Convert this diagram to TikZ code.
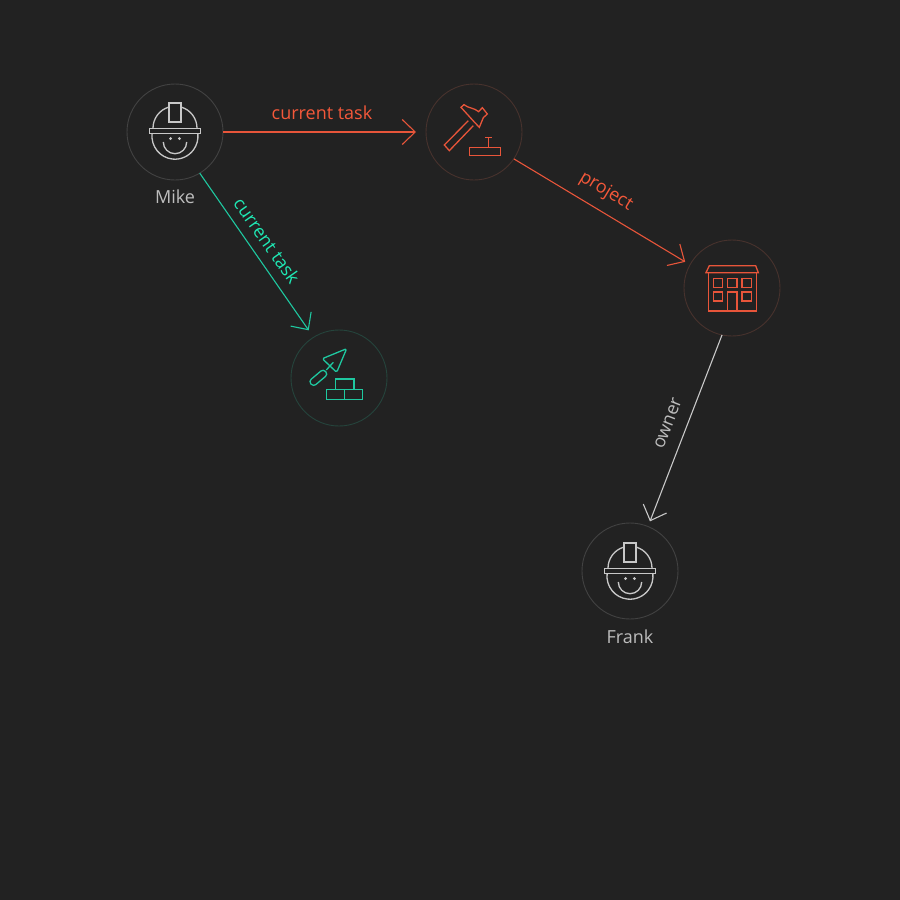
\documentclass[tikz,border=0pt]{standalone}
\usepackage{fontspec}
\setmainfont{Open Sans}
\usetikzlibrary{arrows.meta}
\definecolor{bgc}{HTML}{222222}
\definecolor{orc}{HTML}{E8553A}
\definecolor{orl}{HTML}{F4583A}
\definecolor{grc}{HTML}{1FC8A0}
\definecolor{grl}{HTML}{1FE8B4}
\definecolor{gyc}{HTML}{C8C8C8}
\definecolor{gyl}{HTML}{BDBDBD}
\definecolor{ringg}{HTML}{424242}
\definecolor{ringo}{HTML}{47322D}
\definecolor{ringt}{HTML}{25443C}
\tikzset{
  x=1pt,y=1pt,
  hub/.style={circle,draw=#1,line width=0.9pt,minimum size=96pt,inner sep=0pt,outer sep=0pt},
  link/.style={draw=#1,line width=1.1pt,-{Straight Barb[length=13pt,width=25pt,line width=1.1pt]}},
  lab/.style={font=\fontsize{18}{21}\selectfont,inner sep=0pt},
  ico/.style={draw=#1,line width=1.3pt,line join=miter},
  zoomed/.style={x=0.3333pt,y=-0.3333pt},
  person/.pic={
    \draw[ico=gyc] (-25.5,-2.8) rectangle (25.5,2.8);
    \draw[ico=gyc] (-6,9) rectangle (6,28);
    \draw[ico=gyc] (-22,2.8) arc[start angle=180,end angle=106,radius=22];
    \draw[ico=gyc] (22,2.8) arc[start angle=0,end angle=74,radius=22];
    \draw[ico=gyc] (-22.9,-2.8) arc[start angle=174,end angle=366,radius=23];
    \draw[ico=gyc] (-11.7,-11) arc[start angle=180,end angle=360,radius=11.7];
    \fill[gyc] (-4.4,-7.5) circle[radius=1.6] (4.4,-7.5) circle[radius=1.6];
  }
}
\begin{document}
\begin{tikzpicture}
\useasboundingbox (0,-900) rectangle (900,0);
\fill[bgc] (0,-900) rectangle (900,0);
% hubs
\node[hub=ringg] (mike) at (175,-132) {};
\node[hub=ringo] (hammer) at (474,-132) {};
\node[hub=ringt] (trowel) at (339,-378) {};
\node[hub=ringo] (building) at (732,-288) {};
\node[hub=ringg] (frank) at (630,-571) {};
% connectors
\path[link=orc,shorten >=10pt] (mike.east) -- (hammer.west);
\path[link=grc,shorten >=8.5pt] (mike.-59.6) -- (trowel.122);
\path[link=orc,shorten >=5.6pt] (hammer.-34) -- (building.151);
\path[link=gyc,shorten >=5.5pt] (building.-102) -- (frank.68);
% labels
\node[lab,text=orl] (l1) at (322,-113) {current task};
\node[lab,text=grl,rotate=-55] (l2) at (267,-240.5) {current task};
\node[lab,text=orl,rotate=-31] (l3) at (606,-191.5) {project};
\node[lab,text=gyl,rotate=69] (l4) at (668,-423.5) {owner};
\node[lab,text=gyl] (n1) at (175,-197) {Mike};
\node[lab,text=gyl] (n2) at (630,-637) {Frank};
% persons
\pic at (175,-131) {person};
\pic at (630,-571) {person};
% hammer
\begin{scope}[shift={(400,-75)},zoomed]
\draw[ico=orc] (205,137) -- (133,210) -- (148,227) -- (220,152);
\draw[ico=orc] (183,97) -- (192,89) .. controls (205,100) and (222,98) .. (236,110) -- (247,98) -- (262,117) -- (250,128) -- (238,157) -- (222,140) -- cycle;
\draw[ico=orc] (208,218) rectangle (301,242);
\draw[ico=orc] (265,218) -- (265,188) (255,188) -- (275,188);
\end{scope}
% trowel
\begin{scope}[shift={(285,-310)},zoomed]
\draw[ico=grc,line join=round,rounded corners=1.5pt] (185,116) -- (112,146) -- (155,187) -- cycle;
\draw[ico=grc] (145,157) -- (124,180);
\draw[ico=grc,rounded corners=3.2pt] (129,193) -- (115,177) -- (71,214) -- (85,230) -- cycle;
\draw[ico=grc] (152,207) rectangle (207,238);
\draw[ico=grc] (125,238) rectangle (233,268);
\draw[ico=grc] (179,238) -- (179,268);
\end{scope}
% building
\begin{scope}[shift={(660,-235)},zoomed]
\draw[ico=orc] (138,113) -- (148,92) -- (287,92) -- (295,113) -- cycle;
\draw[ico=orc] (145,113) -- (145,228) -- (290,228) -- (290,113);
\foreach \a/\b in {160/130,203/130,246/130,160/171,246/171}
  \draw[ico=orc] (\a,\b) rectangle ++(28,27);
\draw[ico=orc] (203,228) -- (203,171) -- (231,171) -- (231,228);
\end{scope}
\end{tikzpicture}
\end{document}
